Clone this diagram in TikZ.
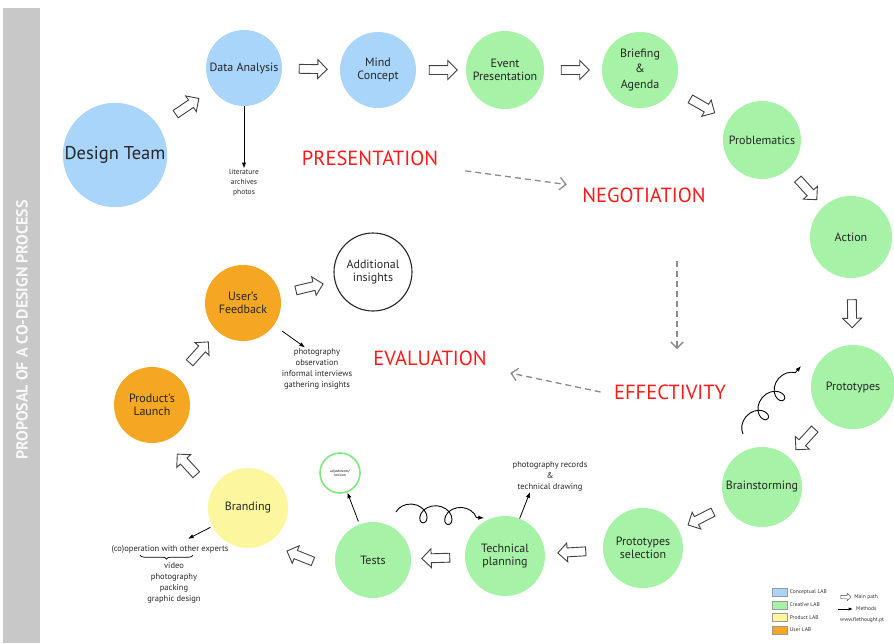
\documentclass[tikz,border=0pt]{standalone}
\usepackage{fontspec}
\setmainfont{PT Sans}
\usepackage{tikz}
\usetikzlibrary{arrows.meta}
\usetikzlibrary{shapes}
\usetikzlibrary{positioning}
\usetikzlibrary{decorations.pathmorphing}
\usetikzlibrary{decorations.pathreplacing}

\definecolor{concept}{HTML}{A9D5FB}
\definecolor{creative}{HTML}{A6F2A6}
\definecolor{product}{HTML}{FCF79E}
\definecolor{userlab}{HTML}{F5A623}
\definecolor{adjline}{HTML}{7EEA7E}
\definecolor{phasered}{HTML}{FF1A1A}
\definecolor{barfill}{HTML}{C8C8C8}

\tikzset{
	lab/.style={circle, minimum size=#1, inner sep=1pt, align=center, text=black!85,
		font=\fontsize{12}{13.5}\selectfont},
	conc/.style={lab=76pt, fill=concept},
	crea/.style={lab=80pt, fill=creative},
	prod/.style={lab=80pt, fill=product},
	user/.style={lab=76pt, fill=userlab},
	phase/.style={text=phasered, font=\fontsize{20.5}{22}\selectfont},
	mainpath/.style={single arrow, draw=black!75, fill=white, line width=0.9pt,
		minimum height=28pt, inner xsep=0pt, inner ysep=4pt,
		single arrow head extend=5pt, allow upside down},
	method/.style={-{Latex[length=2mm]}, line width=0.8pt},
	flow/.style={-{Straight Barb[length=2.2mm]}, draw=black!45, line width=1.3pt,
		dash pattern=on 6pt off 4pt},
	note/.style={align=center, inner sep=1pt, text=black!85,
		font=\fontsize{8.5}{11}\selectfont},
	curl/.style={-{Latex[length=2mm]}, line width=0.9pt, decorate,
		decoration={coil, aspect=1, amplitude=9pt, segment length=25pt, post length=6pt}},
	legbox/.style={rectangle, minimum width=15pt, minimum height=8pt, inner sep=0pt,
		draw=black!40, line width=0.3pt},
	legtext/.style={inner sep=1pt, text=black!80, font=\fontsize{5.5}{6}\selectfont}
}

\begin{document}
\begin{tikzpicture}[x=1pt, y=-1pt]
	\useasboundingbox (0,0) rectangle (894,643);
	
	% side bar
	\fill[barfill] (3,8) rectangle (40,643);
	\node[rotate=90, text=white!88!barfill, font=\fontsize{16}{18}\selectfont\bfseries] (title) at (22,330) {PROPOSAL OF A CO-DESIGN PROCESS};
	
	% labs
	\node[lab=104pt, fill=concept, font=\fontsize{18.5}{20}\selectfont] (team) at (115,155) {Design Team};
	\node[conc] (data) at (244,68) {Data Analysis};
	\node[conc] (mind) at (378,70) {Mind\\Concept};
	\node[crea, minimum size=78pt] (event) at (505,70) {Event\\Presentation};
	\node[crea, minimum size=76pt, font=\fontsize{12}{15.5}\selectfont] (brief) at (640,70) {Briefing\\\&\\Agenda};
	\node[crea, minimum size=78pt] (probl) at (762,140) {Problematics};
	\node[crea, minimum size=82pt] (action) at (851,237) {Action};
	\node[crea, minimum size=84pt] (proto) at (853,387) {Prototypes};
	\node[crea] (brain) at (762,487) {Brainstorming};
	\node[crea] (select) at (643,548) {Prototypes\\selection};
	\node[crea] (tech) at (505,556) {Technical\\planning};
	\node[crea, minimum size=76pt] (tests) at (373,560) {Tests};
	\node[prod] (brand) at (248,508) {Branding};
	\node[user] (launch) at (152,405) {Product's\\Launch};
	\node[user] (feed) at (243,303) {User's\\Feedback};
	\node[lab=78pt, draw=black!85, line width=1.1pt] (insight) at (373,272) {Additional\\insights};
	\node[circle, draw=adjline, line width=1.6pt, minimum size=40pt, inner sep=0pt, align=center,
		font=\fontsize{3.5}{4}\selectfont] (adjust) at (340,473) {adjustments/\\revision};
	
	% phases
	\node[phase] (pres) at (370,158) {PRESENTATION};
	\node[phase] (nego) at (644,195) {NEGOTIATION};
	\node[phase] (eval) at (430,358) {EVALUATION};
	\node[phase] (effect) at (670,392) {EFFECTIVITY};
	
	\draw[flow, shorten <=24pt, shorten >=12pt] (pres) -- (nego);
	\draw[flow] ([xshift=33pt, yshift=-55pt]nego.south) -- ([xshift=7pt, yshift=32pt]effect.north);
	\draw[flow] ([xshift=-10pt]effect.west) -- ([xshift=20pt, yshift=-15pt]eval.east);
	
	% main path
	\foreach \a/\b in {team/data, data/mind, mind/event, event/brief, brief/probl, probl/action,
		action/proto, proto/brain, brain/select, select/tech, tech/tests, launch/feed, feed/insight}
		\path (\a) -- (\b) node[mainpath, midway, sloped] {};
	\path (tests) to[bend left=25] node[mainpath, midway, sloped] {} (brand);
	\path (brand) to[bend left=15] node[mainpath, midway, sloped] {} (launch);
	
	% methods
	\node[note, font=\fontsize{7.5}{10}\selectfont] (litnote) at (244,183) {literature\\archives\\photos};
	\draw[method] (data) -- (litnote);
	
	\node[note] (feednote) at (317,369) {photography\\observation\\informal interviews\\gathering insights};
	\draw[method, shorten <=10pt] (feed) -- ([xshift=-12pt]feednote.north);
	
	\draw[method, shorten <=3pt] (tests) -- (adjust);
	
	\node[note] (technote) at (550,476) {photography records\\\&\\technical drawing};
	\draw[method] (tech) -- ([xshift=-20pt]technote.south);
	
	\node[note] (coop) at (170,549) {(co)operation with other experts};
	\draw[method, shorten <=2pt] (brand) -- ([xshift=18pt, yshift=5pt]coop.north);
	\draw[line width=0.7pt, decorate, decoration={brace, mirror, amplitude=4pt}]
		([xshift=-30pt, yshift=-1pt]coop.south) -- ([xshift=23pt, yshift=-1pt]coop.south);
	\node[note, below=7pt of coop, xshift=4pt] (media) {video\\photography\\packing\\graphic design};
	
	% iterations
	\coordinate (c1) at (396,512);
	\coordinate (c2) at (484,518);
	\draw[curl] (c1) -- (c2);
	\coordinate (c3) at (743,434);
	\coordinate (c4) at (801,366);
	\draw[curl] (c3) -- (c4);
	
	% legend
	\foreach \c/\t [count=\i] in {concept/Conceptual LAB, creative/Creative LAB, product/Product LAB, userlab/User LAB} {
		\node[legbox, fill=\c] (box\i) at (780,{580+12.5*\i}) {};
		\node[legtext, right=1pt of box\i] (leg\i) {\t};
	}
	\node[mainpath, line width=0.4pt, minimum height=10pt, inner ysep=1.5pt, single arrow head extend=2pt] (keymain) at (845,597) {};
	\node[legtext, right=2pt of keymain] (keymaintext) {Main path};
	\coordinate (k1) at (838,609);
	\coordinate (k2) at (853,609);
	\draw[-{Latex[length=1.5mm]}, line width=0.8pt] (k1) -- (k2);
	\node[legtext, right=2pt of k2] (keymethod) {Methods};
	\node[legtext, anchor=west] (web) at (839,620) {www.flethought.pt};
\end{tikzpicture}
\end{document}
